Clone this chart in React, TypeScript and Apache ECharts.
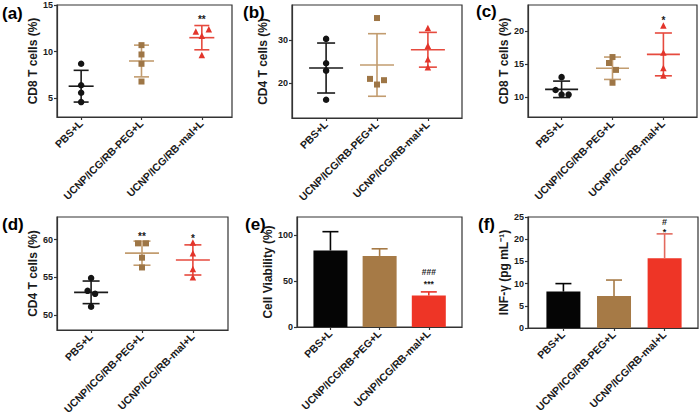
import React, { useEffect, useRef } from 'react';
import * as echarts from 'echarts';

// ---------- data ----------
const groups = ['PBS+L', 'UCNP/ICG/RB-PEG+L', 'UCNP/ICG/RB-mal+L'];
const groupPos = [1, 2, 3];

// (a) CD8 T cells (%)
const aPoints = [[8.7, 6.4, 5.6, 4.6], [10.7, 9.7, 8.7, 6.8], [12.15, 12.4, 11.7, 9.65]];
const aMean = [6.3, 9.0, 11.5];
const aSD = [1.7, 1.7, 1.3];
const aTicks = [5, 10, 15];
const aSig = ['', '', '**'];
const aSigY = [0, 0, 13.5];

// (b) CD4 T cells (%)
const bPoints = [[30.2, 24.6, 22.9, 16.2], [35.0, 21.0, 20.7, 19.7], [32.7, 28.6, 25.5, 23.7]];
const bMean = [23.5, 24.2, 27.7];
const bSD = [5.75, 7.2, 4.0];
const bTicks = [20, 30];

// (c) CD8 T cells (%)
const cPoints = [[13.05, 11.1, 10.4, 10.4], [16.1, 15.2, 14.15, 12.2], [20.9, 16.8, 14.45, 13.3]];
const cMean = [11.2, 14.4, 16.5];
const cSD = [1.25, 1.7, 3.25];
const cTicks = [10, 15, 20];
const cSig = ['', '', '*'];
const cSigY = [0, 0, 21.7];

// (d) CD4 T cells (%)
const dPoints = [[54.9, 53.2, 52.8, 51.1], [59.5, 59.5, 57.6, 56.3], [59.6, 58.2, 56.1, 55.0]];
const dMean = [53.0, 58.2, 57.3];
const dSD = [1.5, 1.6, 2.0];
const dTicks = [50, 55, 60];
const dSig = ['', '**', '*'];
const dSigY = [0, 60.4, 60.15];

// (e) Cell Viability (%)
const eMean = [83.5, 77.5, 34.3];
const eSD = [20.5, 7.8, 4.0];
const eTicks = [0, 50, 100];
const eSig = ['', '', '###\n***'];
const eSigY = [0, 0, 53.9];

// (f) INF-γ (pg mL⁻¹)
const fMean = [8.2, 7.2, 15.7];
const fSD = [1.8, 3.6, 5.5];
const fTicks = [0, 5, 10, 15, 20, 25];
const fSig = ['', '', '#\n*'];
const fSigY = [0, 0, 22.8];

// ---------- style / layout ----------
const FONT = 'Arial, "Liberation Sans", Helvetica, sans-serif';
const AXIS = '#333333';
const TEXT = '#1a1a1a';
const markerColors = ['#141414', '#9e7646', '#e3352b'];
const lineColors = ['#1a1a1a', '#c29c6f', '#e64a3e'];
const barColors = ['#050505', '#a67a46', '#ee3526'];
const symbols = ['circle', 'rect', 'triangle'];
const symbolSizes = [6.5, 6, 6.5];

// pixel jitter of individual points (horizontal)
const aJitter = [[0, 0, 0, 0], [0, 0, 0, 0], [-6, 7, 0, 0]];
const bJitter = [[0, 0, 0, 0], [0, -7, 7, 0], [0, 0, 0, 0]];
const cJitter = [[0, -6, 0, 7], [0, -3.5, 3.5, 0], [0, 0, 0, 0]];
const dJitter = [[0, -3.5, 4, 0], [-4, 4, 0, 0], [0, 0, 0, 0]];

type Panel = {
  title: string; tx: number; ty: number;
  left: number; top: number; width: number; height: number;
  xMin: number; xMax: number; yMin: number; yMax: number; ticks: number[];
  name: string; nameGap: number;
};

const panels: Panel[] = [
  { title: '(a)', tx: 2, ty: 5, left: 57, top: 5, width: 175, height: 112, xMin: 0.6, xMax: 3.5, yMin: 3, yMax: 15, ticks: aTicks, name: 'CD8 T cells (%)', nameGap: 17 },
  { title: '(b)', tx: 243, ty: 4, left: 292, top: 5, width: 170, height: 113, xMin: 0.33, xMax: 3.67, yMin: 12, yMax: 38, ticks: bTicks, name: 'CD4 T cells (%)', nameGap: 23 },
  { title: '(c)', tx: 476, ty: 3, left: 528, top: 5, width: 169, height: 112, xMin: 0.34, xMax: 3.66, yMin: 7, yMax: 24, ticks: cTicks, name: 'CD8 T cells (%)', nameGap: 13 },
  { title: '(d)', tx: 2, ty: 216, left: 57, top: 217, width: 171, height: 113, xMin: 0.33, xMax: 3.69, yMin: 48, yMax: 63, ticks: dTicks, name: 'CD4 T cells (%)', nameGap: 15 },
  { title: '(e)', tx: 245, ty: 216, left: 297, top: 217, width: 165, height: 110, xMin: 0.32, xMax: 3.675, yMin: 0, yMax: 120, ticks: eTicks, name: 'Cell Viability (%)', nameGap: 20 },
  { title: '(f)', tx: 478, ty: 216, left: 528, top: 217, width: 170, height: 111, xMin: 0.3, xMax: 3.66, yMin: 0, yMax: 25, ticks: fTicks, name: 'INF-γ (pg mL⁻¹)', nameGap: 14 },
];

const meanHalf = [12.5, 17, 16.5, 17];
const capHalf = [7.5, 9, 8.5, 8.5];

function sigSeries(idx: number, sig: string[], sigY: number[], size: number, lineHeight: number) {
  return {
    type: 'custom',
    xAxisIndex: idx,
    yAxisIndex: idx,
    z: 4,
    silent: true,
    data: groupPos.map((p, g) => [p, sigY[g], g]).filter((d) => sig[d[2]] !== ''),
    renderItem: (_params: any, api: any) => {
      const pt = api.coord([api.value(0), api.value(1)]);
      return {
        type: 'text',
        x: pt[0],
        y: pt[1],
        style: {
          text: sig[api.value(2)],
          fill: TEXT,
          fontFamily: FONT,
          fontWeight: 'bold',
          fontSize: size,
          lineHeight,
          align: 'center',
          verticalAlign: 'middle',
        },
      };
    },
  };
}

function scatterPanelSeries(idx: number, points: number[][], jitter: number[][], mean: number[], sd: number[], sig?: string[], sigY?: number[]) {
  const out: any[] = [];
  const mh = meanHalf[idx];
  const ch = capHalf[idx];
  out.push({
    type: 'custom',
    xAxisIndex: idx,
    yAxisIndex: idx,
    z: 2,
    silent: true,
    data: groupPos.map((p, g) => [p, mean[g], sd[g]]),
    renderItem: (params: any, api: any) => {
      const x = api.value(0), m = api.value(1), s = api.value(2);
      const pm = api.coord([x, m]);
      const ph = api.coord([x, m + s]);
      const pl = api.coord([x, m - s]);
      const style = { stroke: lineColors[params.dataIndex], lineWidth: 1.6 };
      return {
        type: 'group',
        children: [
          { type: 'line', shape: { x1: pm[0] - mh, y1: pm[1], x2: pm[0] + mh, y2: pm[1] }, style },
          { type: 'line', shape: { x1: pm[0], y1: ph[1], x2: pm[0], y2: pl[1] }, style },
          { type: 'line', shape: { x1: pm[0] - ch, y1: ph[1], x2: pm[0] + ch, y2: ph[1] }, style },
          { type: 'line', shape: { x1: pm[0] - ch, y1: pl[1], x2: pm[0] + ch, y2: pl[1] }, style },
        ],
      };
    },
  });
  points.forEach((vals, g) => {
    out.push({
      type: 'scatter',
      xAxisIndex: idx,
      yAxisIndex: idx,
      z: 3,
      silent: true,
      symbol: symbols[g],
      symbolSize: symbolSizes[g],
      itemStyle: { color: markerColors[g], opacity: 1 },
      data: vals.map((v, i) => ({ value: [groupPos[g], v], symbolOffset: [jitter[g][i], 0] })),
    });
  });
  if (sig && sigY) out.push(sigSeries(idx, sig, sigY, 10, 10));
  return out;
}

function barPanelSeries(idx: number, mean: number[], sd: number[], errColors: string[]) {
  return [
    {
      type: 'bar',
      xAxisIndex: idx,
      yAxisIndex: idx,
      barWidth: 34,
      silent: true,
      z: 2,
      data: groupPos.map((p, g) => ({ value: [p, mean[g]], itemStyle: { color: barColors[g] } })),
    },
    {
      type: 'custom',
      xAxisIndex: idx,
      yAxisIndex: idx,
      z: 3,
      silent: true,
      data: groupPos.map((p, g) => [p, mean[g], sd[g]]),
      renderItem: (params: any, api: any) => {
        const x = api.value(0), m = api.value(1), s = api.value(2);
        const pm = api.coord([x, m]);
        const ph = api.coord([x, m + s]);
        const style = { stroke: errColors[params.dataIndex], lineWidth: 1.6 };
        return {
          type: 'group',
          children: [
            { type: 'line', shape: { x1: pm[0], y1: pm[1], x2: pm[0], y2: ph[1] }, style },
            { type: 'line', shape: { x1: pm[0] - 8, y1: ph[1], x2: pm[0] + 8, y2: ph[1] }, style },
          ],
        };
      },
    },
  ];
}

function buildOption() {
  const grid = panels.map((p) => ({
    left: p.left, top: p.top, width: p.width, height: p.height,
    show: true, borderColor: AXIS, borderWidth: 1.2, backgroundColor: 'transparent',
    containLabel: false, outerBoundsMode: 'none',
  }));
  const xAxis = panels.map((p, i) => ({
    type: 'value', gridIndex: i, min: p.xMin, max: p.xMax,
    splitLine: { show: false },
    axisLine: { show: true, onZero: false, lineStyle: { color: AXIS, width: 1.2 } },
    axisTick: { show: true, length: 3, customValues: groupPos, lineStyle: { color: AXIS, width: 1.2 } },
    axisLabel: {
      show: true, customValues: groupPos, rotate: 45, margin: 5,
      fontFamily: FONT, fontWeight: 'bold', fontSize: 10.5, color: TEXT,
      formatter: (v: number) => groups[Math.round(v) - 1] ?? '',
    },
  }));
  const yAxis = panels.map((p, i) => ({
    type: 'value', gridIndex: i, min: p.yMin, max: p.yMax,
    splitLine: { show: false },
    axisLine: { show: true, onZero: false, lineStyle: { color: AXIS, width: 1.2 } },
    axisTick: { show: true, length: 3, customValues: p.ticks, lineStyle: { color: AXIS, width: 1.2 } },
    axisLabel: {
      show: true, customValues: p.ticks, margin: 4,
      fontFamily: FONT, fontWeight: 'bold', fontSize: 9, color: TEXT,
    },
    name: p.name, nameLocation: 'middle', nameRotate: 90, nameGap: p.nameGap,
    nameTextStyle: { fontFamily: FONT, fontWeight: 'bold', fontSize: 12, color: TEXT },
  }));
  const series = [
    ...scatterPanelSeries(0, aPoints, aJitter, aMean, aSD, aSig, aSigY),
    ...scatterPanelSeries(1, bPoints, bJitter, bMean, bSD),
    ...scatterPanelSeries(2, cPoints, cJitter, cMean, cSD, cSig, cSigY),
    ...scatterPanelSeries(3, dPoints, dJitter, dMean, dSD, dSig, dSigY),
    ...barPanelSeries(4, eMean, eSD, ['#050505', '#a67a46', '#e8352a']),
    sigSeries(4, eSig, eSigY, 8.5, 12),
    ...barPanelSeries(5, fMean, fSD, ['#050505', '#a67a46', '#e36a5e']),
    sigSeries(5, fSig, fSigY, 9, 10),
  ];
  const graphic = panels.map((p) => ({
    type: 'text', left: p.tx, top: p.ty, silent: true,
    style: { text: p.title, fill: '#000', font: `bold 17px ${FONT}` },
  }));
  return { animation: false, backgroundColor: '#ffffff', grid, xAxis, yAxis, series, graphic };
}

export default function App() {
  const ref = useRef<HTMLDivElement>(null);
  useEffect(() => {
    if (!ref.current) return;
    const chart = echarts.init(ref.current, undefined, { renderer: 'svg' });
    chart.setOption(buildOption() as any);
    return () => chart.dispose();
  }, []);
  return (
    <div
      ref={ref}
      style={{ position: 'fixed', left: 0, top: 0, width: 700, height: 416, background: '#fff' }}
    />
  );
}
